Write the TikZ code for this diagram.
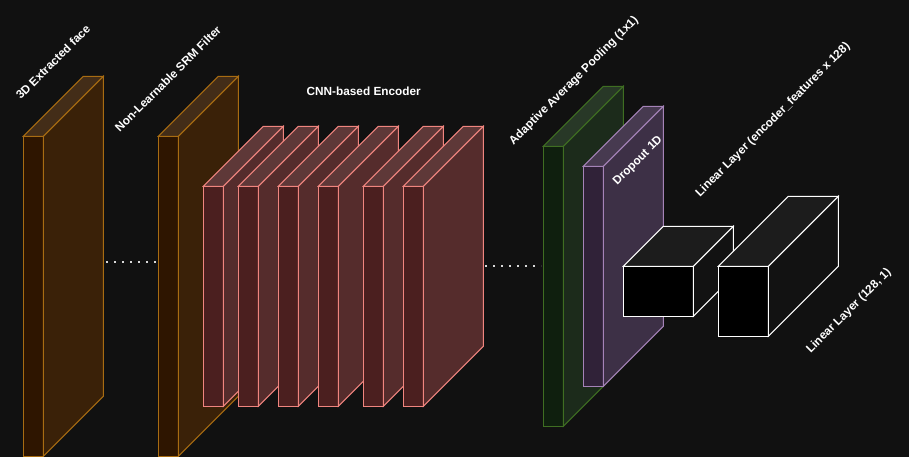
\documentclass[tikz,border=0pt]{standalone}
\usepackage{fontspec}
\setmainfont{Liberation Sans}
\usetikzlibrary{positioning}

\definecolor{bgdark}{HTML}{111111}
\definecolor{orangeline}{HTML}{A86C12}
\definecolor{orangefront}{HTML}{2E1500}
\definecolor{orangeside}{HTML}{3A2108}
\definecolor{orangetop}{HTML}{432D18}
\definecolor{redline}{HTML}{F0857F}
\definecolor{redfront}{HTML}{4B1F1F}
\definecolor{redside}{HTML}{552C2C}
\definecolor{redtop}{HTML}{5E3838}
\definecolor{greenline}{HTML}{3F6E22}
\definecolor{greenfront}{HTML}{0F1F0E}
\definecolor{greenside}{HTML}{1C2B1B}
\definecolor{greentop}{HTML}{283827}
\definecolor{purpleline}{HTML}{A583B8}
\definecolor{purplefront}{HTML}{302238}
\definecolor{purpleside}{HTML}{3D3046}
\definecolor{purpletop}{HTML}{473A50}
\definecolor{blackline}{HTML}{FFFFFF}
\definecolor{blackfront}{HTML}{000000}
\definecolor{blackside}{HTML}{121212}
\definecolor{blacktop}{HTML}{1C1C1C}

% #1 name, #2 x, #3 y, #4 width, #5 height, #6 depth, #7 colour set
\newcommand{\layer}[7]{%
  \node[front, draw=#7line, fill=#7front, minimum width=#4pt,
        minimum height=#5pt] (#1) at (#2,#3) {};
  \draw[face, draw=#7line, fill=#7side] (#1.north east) -- ++(#6,-#6)
        -- ++(0,#5) -- (#1.south east) -- cycle;
  \draw[face, draw=#7line, fill=#7top] (#1.north west) -- ++(#6,-#6)
        -- ++(#4,0) -- (#1.north east) -- cycle;
}

\begin{document}
\begin{tikzpicture}[x=1pt,y=-1pt,
    front/.style={rectangle,anchor=north west,inner sep=0pt,outer sep=0pt,
                  line width=1pt},
    face/.style={line width=1pt,line join=miter},
    dotline/.style={draw=white!85!black,line width=2pt,
                    dash pattern=on 2pt off 6pt},
    lbl/.style={text=white,font=\fontsize{11.8}{14}\selectfont\bfseries,
                inner sep=0pt}]

  \fill[bgdark] (0,0) rectangle (909,457);
  \useasboundingbox (0,0) rectangle (909,457);

  % input and filter
  \layer{face}{23.3}{136.3}{20}{320}{60}{orange}
  \layer{srm}{158.3}{136.3}{20}{320}{60}{orange}

  % encoder
  \layer{cnn1}{203.3}{186.3}{20}{220}{60}{red}
  \layer{cnn2}{238.3}{186.3}{20}{220}{60}{red}
  \layer{cnn3}{278.3}{186.3}{20}{220}{60}{red}
  \layer{cnn4}{318.3}{186.3}{20}{220}{60}{red}
  \layer{cnn5}{363.3}{186.3}{20}{220}{60}{red}
  \layer{cnn6}{403.3}{186.3}{20}{220}{60}{red}

  % head
  \layer{pool}{543.3}{146.3}{20}{280}{60}{green}
  \layer{drop}{583.3}{166.3}{20}{220}{60}{purple}
  \layer{lin1}{623.3}{266.3}{70}{50}{40}{black}
  \layer{lin2}{718.3}{266.3}{50}{70}{70}{black}

  % dotted links
  \coordinate (d1s) at (106,262);
  \coordinate (d1e) at (156,262);
  \coordinate (d2s) at (485,266.3);
  \coordinate (d2e) at (541,266.3);
  \draw[dotline] (d1s) -- (d1e);
  \draw[dotline] (d2s) -- (d2e);

  % labels
  \node[lbl,rotate=45] (lface) at (53,62) {3D Extracted face};
  \node[lbl,rotate=45] (lsrm) at (168,79) {Non-Learnable SRM Filter};
  \node[lbl] (lcnn) at (363.7,91) {CNN-based Encoder};
  \node[lbl,rotate=45] (lpool) at (574,81) {Adaptive Average Pooling (1x1)};
  \node[lbl,rotate=45] (ldrop) at (638,161) {Dropout 1D};
  \node[lbl,rotate=45] (llin1) at (773,120)
       {Linear Layer (encoder\_features x 128)};
  \node[lbl,rotate=45] (llin2) at (849,311) {Linear Layer (128, 1)};

\end{tikzpicture}
\end{document}
